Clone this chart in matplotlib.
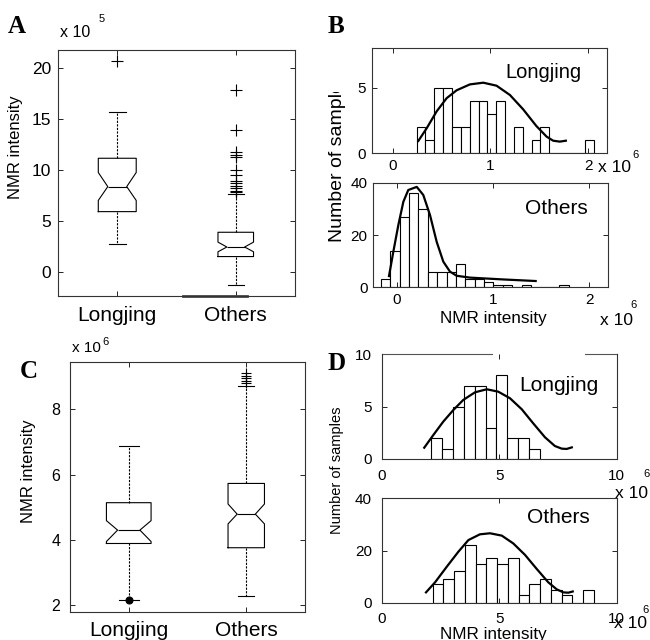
import matplotlib
matplotlib.use('Agg')
import matplotlib.pyplot as plt
from matplotlib.transforms import Bbox, TransformedBbox

plt.rcParams['font.family'] = ['Liberation Sans', 'DejaVu Sans']

W, H = 650, 640

# ---- A: box plot, NMR intensity in units of 1e5
box_labels = ['Longjing', 'Others']
a_med = [8.36, 2.42]
a_q1 = [5.9, 1.48]
a_q3 = [11.15, 3.87]
a_cilo = [7.0, 1.95]
a_cihi = [9.75, 2.9]
a_whislo = [2.7, -1.35]
a_whishi = [15.67, 7.6]
a_fliers_lj = [20.7]
a_fliers_ot = [7.8, 7.97, 8.2, 8.46, 8.7, 8.9, 9.5, 10.0, 11.3, 11.5, 11.8, 13.9, 17.9]

# ---- C: box plot, units of 1e6
c_med = [4.3, 4.79]
c_q1 = [3.89, 3.76]
c_q3 = [5.14, 5.73]
c_cilo = [3.95, 4.49]
c_cihi = [4.59, 5.1]
c_whislo = [2.17, 2.28]
c_whishi = [6.88, 8.72]
c_fliers_lj = [2.17]
c_fliers_ot = [8.8, 8.87, 8.95, 9.03, 9.1]

# ---- B: histograms, units of 1e6
b_lj_bin0, b_lj_binw = 0.245, 0.0905
b_lj_counts = [2, 1, 5, 5, 2, 2, 4, 4, 3, 4, 0, 2, 0, 1, 2, 0, 0, 0, 0, 1]
b_lj_fit_x = [0.262, 0.347, 0.45, 0.552, 0.654, 0.79, 0.927, 1.063, 1.2, 1.335, 1.47, 1.575, 1.642, 1.71, 1.772]
b_lj_fit_y = [0.94, 1.9, 3.2, 4.2, 4.8, 5.25, 5.38, 5.15, 4.44, 3.35, 2.08, 1.27, 0.96, 0.89, 0.96]

b_ot_bin0, b_ot_binw = -0.165, 0.0975
b_ot_counts = [3, 14, 27, 36, 30, 6, 6, 6, 9, 3, 3, 2, 1, 1, 0, 1, 0, 0, 0, 1]
b_ot_fit_x = [-0.08, -0.035, 0.017, 0.069, 0.12, 0.208, 0.276, 0.346, 0.415, 0.484, 0.553, 0.623, 0.761, 1.107, 1.443]
b_ot_fit_y = [4.3, 13.6, 23.8, 32.7, 37.2, 38.4, 35.3, 27.6, 17.4, 9.8, 6.0, 4.4, 3.7, 3.0, 2.4]

# ---- D: histograms, units of 1e6
d_lj_bin0, d_lj_binw = 2.1, 0.464
d_lj_counts = [2, 1, 5, 7, 7, 3, 8, 2, 2, 1]
d_lj_fit_x = [1.81, 2.2, 2.62, 3.05, 3.47, 3.97, 4.47, 4.96, 5.46, 5.96, 6.45, 6.95, 7.37, 7.66, 7.87, 8.09]
d_lj_fit_y = [1.08, 2.3, 3.57, 4.68, 5.64, 6.37, 6.66, 6.43, 5.8, 4.75, 3.4, 2.07, 1.24, 0.99, 0.96, 1.11]

d_ot_bin0, d_ot_binw = 2.17, 0.457
d_ot_counts = [7, 9, 12, 22, 15, 17, 15, 17, 3, 7, 9, 5, 3, 0, 5]
d_ot_fit_x = [1.885, 2.27, 2.77, 3.26, 3.69, 4.18, 4.61, 5.11, 5.6, 6.1, 6.6, 7.09, 7.45, 7.73, 7.94, 8.13]
d_ot_fit_y = [3.96, 7.8, 13.8, 19.5, 24.0, 26.2, 26.6, 25.7, 22.7, 18.3, 12.9, 7.8, 5.1, 3.96, 3.83, 4.3]


def rect(l, r, t, b):
    # pixel box -> figure fraction
    return [l / W, 1 - b / H, (r - l) / W, (b - t) / H]


def ftext(x, y, s, **kw):
    return fig.text(x / W, 1 - y / H, s, **kw)


def style(ax, size, pad):
    ax.tick_params(direction='in', top=True, right=True, length=3.5, width=0.6,
                   labelsize=size, pad=pad)
    for sp in ax.spines.values():
        sp.set_linewidth(0.8)
        sp.set_color('#333333')


def boxes(ax, med, q1, q3, cilo, cihi, lo, hi, fliers, widths):
    st = []
    for i in range(2):
        st.append(dict(med=med[i], q1=q1[i], q3=q3[i], cilo=cilo[i], cihi=cihi[i],
                       whislo=lo[i], whishi=hi[i], fliers=fliers[i], label=box_labels[i]))
    lw = 0.8
    return ax.bxp(st, positions=[1, 2], widths=widths, shownotches=True,
                  capwidths=[w * 0.45 for w in widths],
                  boxprops=dict(color='k', lw=lw), medianprops=dict(color='k', lw=lw),
                  whiskerprops=dict(color='k', lw=lw, ls=(0, (2, 1.2))),
                  capprops=dict(color='k', lw=lw),
                  flierprops=dict(marker='+', markeredgecolor='k', markersize=9,
                                  markeredgewidth=0.8))


def hist(ax, bin0, binw, counts, fx, fy):
    lefts = [bin0 + binw * k for k in range(len(counts))]
    ax.bar(lefts, counts, width=binw, align='edge', color='white',
           edgecolor='k', linewidth=0.8)
    ax.plot(fx, fy, color='k', lw=1.6)


fig = plt.figure(figsize=(W / 100, H / 100), dpi=100)

# A
axA = fig.add_axes(rect(58, 295, 50, 296))
boxes(axA, a_med, a_q1, a_q3, a_cilo, a_cihi, a_whislo, a_whishi,
      [a_fliers_lj, a_fliers_ot], [0.32, 0.30])
axA.set_xlim(0.5, 2.5)
axA.set_ylim(-2.4, 21.8)
axA.set_yticks([0, 5, 10, 15, 20])
style(axA, 12.5, 5)
axA.tick_params(axis='x', labelsize=15, pad=7)
# darker piece of the bottom frame, as in the scan
axA.plot([0.527, 0.797], [0, 0], transform=axA.transAxes, color='#444444', lw=2, clip_on=False)

# C
axC = fig.add_axes(rect(70, 305, 361.7, 611.7))
bc = boxes(axC, c_med, c_q1, c_q3, c_cilo, c_cihi, c_whislo, c_whishi,
           [c_fliers_lj, c_fliers_ot], [0.38, 0.31])
bc['fliers'][0].set(marker='o', markerfacecolor='k', markersize=5)
bc['fliers'][1].set(markersize=7.5)
axC.set_xlim(0.5, 2.5)
axC.set_ylim(1.8, 9.46)
axC.set_yticks([2, 4, 6, 8])
style(axC, 11.5, 7)
axC.tick_params(axis='x', labelsize=15, pad=7)

# B
axB1 = fig.add_axes(rect(371.7, 606.7, 48.3, 153.3))
hist(axB1, b_lj_bin0, b_lj_binw, b_lj_counts, b_lj_fit_x, b_lj_fit_y)
axB1.set_xlim(-0.215, 2.19)
axB1.set_ylim(0, 8)
axB1.set_xticks([0, 1, 2])
axB1.set_yticks([0, 5])
style(axB1, 11, 4)
axB1.text(0.73, 0.77, 'Longjing', transform=axB1.transAxes, ha='center', va='center', fontsize=14.5)

axB2 = fig.add_axes(rect(373.3, 608.3, 182.7, 287.3))
hist(axB2, b_ot_bin0, b_ot_binw, b_ot_counts, b_ot_fit_x, b_ot_fit_y)
axB2.set_xlim(-0.243, 2.197)
axB2.set_ylim(0, 40)
axB2.set_xticks([0, 1, 2])
axB2.set_yticks([0, 20, 40])
style(axB2, 11, 4)
axB2.text(0.78, 0.75, 'Others', transform=axB2.transAxes, ha='center', va='center', fontsize=15)

# D
axD1 = fig.add_axes(rect(381.7, 616.7, 354.3, 459))
hist(axD1, d_lj_bin0, d_lj_binw, d_lj_counts, d_lj_fit_x, d_lj_fit_y)
axD1.set_xlim(0, 10)
axD1.set_ylim(0, 10)
axD1.set_xticks([0, 5, 10])
axD1.set_yticks([0, 5, 10])
style(axD1, 11, 7)
axD1.spines['top'].set_visible(False)
for seg in ([0, 0.468], [0.865, 1]):
    axD1.plot(seg, [1, 1], transform=axD1.transAxes, color='#555555', lw=0.8, clip_on=False)
axD1.text(0.755, 0.70, 'Longjing', transform=axD1.transAxes, ha='center', va='center', fontsize=15)

axD2 = fig.add_axes(rect(381.7, 616.7, 498.3, 602.7))
hist(axD2, d_ot_bin0, d_ot_binw, d_ot_counts, d_ot_fit_x, d_ot_fit_y)
axD2.set_xlim(0, 10)
axD2.set_ylim(0, 40)
axD2.set_xticks([0, 5, 10])
axD2.set_yticks([0, 20, 40])
style(axD2, 11, 7)
axD2.text(0.75, 0.82, 'Others', transform=axD2.transAxes, ha='center', va='center', fontsize=15)

# panel letters
for x, y, s in [(8, 33, 'A'), (328, 33, 'B'), (20, 378, 'C'), (327, 370, 'D')]:
    ftext(x, y, s, family='Liberation Serif', fontweight='bold', fontsize=18, va='baseline')

# multipliers
for x, y, ex, ey, e, fs in [(60, 37, 99, 22, '5', 11.5), (72, 352, 102, 345, '6', 11),
                            (598, 172, 632, 158, '6', 12.5), (600, 325, 630, 308, '6', 12.5),
                            (615, 498, 643, 477, '6', 12.5), (614, 628, 642, 613, '6', 12.5)]:
    ftext(x, y, 'x 10', fontsize=fs, va='baseline')
    ftext(ex, ey, e, fontsize=8, va='baseline')

# axis labels
ftext(16, 147, 'NMR intensity', rotation=90, ha='center', va='center', fontsize=12)
ftext(28, 471, 'NMR intensity', rotation=90, ha='center', va='center', fontsize=12)
ftext(493, 319, 'NMR intensity', ha='center', va='center', fontsize=12.3)
ftext(493, 635, 'NMR intensity', ha='center', va='center', fontsize=12.3)
ftext(337, 470, 'Number of samples', rotation=90, ha='center', va='center', fontsize=10.5)
# shared label of B is cut off at the top in the original
tb = ftext(337, 242, 'Number of samples', rotation=90, ha='center', va='bottom', fontsize=14)
tb.set_clip_box(TransformedBbox(Bbox([[0, 0], [1, (H - 92) / H]]), fig.transFigure))
tb.set_clip_on(True)

fig.savefig('out.png', dpi=100)
